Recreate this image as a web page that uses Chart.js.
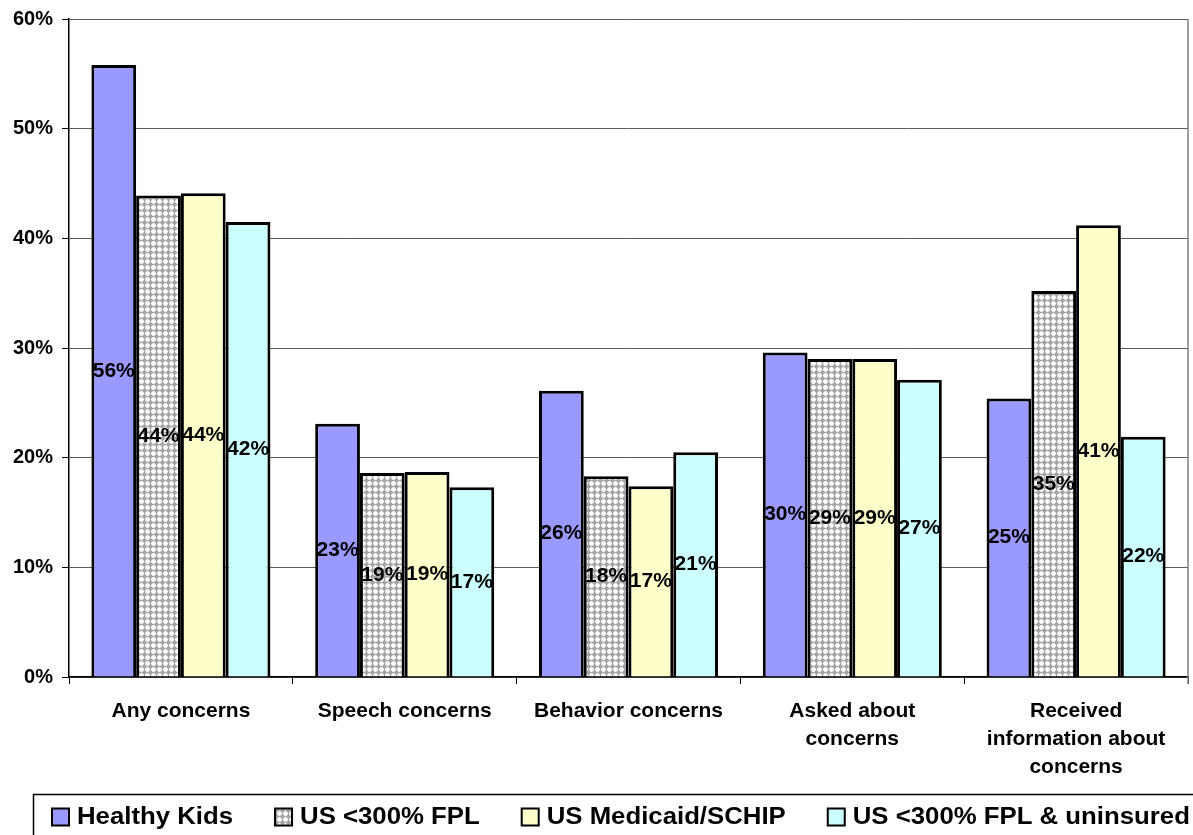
<!DOCTYPE html>
<html>
<head>
<meta charset="utf-8">
<script src="https://cdn.jsdelivr.net/npm/chart.js@4.4.1/dist/chart.umd.min.js"></script>
<style>
  html, body { margin: 0; padding: 0; background: #ffffff; }
  #wrap { width: 1193px; height: 835px; position: relative; }
</style>
</head>
<body>
<div id="wrap"><canvas id="c" width="1193" height="835"></canvas></div>
<script>
// Categories (multi-line labels are arrays)
const categories = [
  'Any concerns',
  'Speech concerns',
  'Behavior concerns',
  ['Asked about', 'concerns'],
  ['Received', 'information about', 'concerns']
];

// Series values (percent)
const healthyKids    = [55.8, 23.1, 26.1, 29.6, 25.4];
const us300FPL       = [43.9, 18.6, 18.3, 29.0, 35.2];
const usMedicaid     = [44.1, 18.7, 17.4, 29.0, 41.2];
const us300Uninsured = [41.5, 17.3, 20.5, 27.1, 21.9];

const seriesNames = ['Healthy Kids', 'US <300% FPL', 'US Medicaid/SCHIP', 'US <300% FPL & uninsured'];

// Y axis tick values
const yTicks = [0, 10, 20, 30, 40, 50, 60];

const FONT = 'Arial, "Liberation Sans", Helvetica, sans-serif';

// Gray crosshatch fill: white plus shapes on a gray lattice
function makeHatch() {
  const p = document.createElement('canvas');
  p.width = 6; p.height = 6;
  const g = p.getContext('2d');
  g.fillStyle = '#a6a6a6';
  g.fillRect(0, 0, 6, 6);
  g.fillStyle = '#d8d8d8';
  [[2,1],[4,1],[1,2],[5,2],[1,4],[5,4],[2,5],[4,5]].forEach(([x, y]) => g.fillRect(x, y, 1, 1));
  g.fillStyle = '#ffffff';
  [[3,1],[2,2],[3,2],[4,2],[1,3],[2,3],[3,3],[4,3],[5,3],[2,4],[3,4],[4,4],[3,5]].forEach(([x, y]) => g.fillRect(x, y, 1, 1));
  return g.createPattern(p, 'repeat');
}

const ctx = document.getElementById('c').getContext('2d');
const hatch = makeHatch();

const fills = ['#9999ff', hatch, '#ffffcc', '#ccffff'];
const seriesData = [healthyKids, us300FPL, usMedicaid, us300Uninsured];

// Value labels centered in each bar
const barLabels = {
  id: 'barLabels',
  afterDatasetsDraw(chart) {
    const c = chart.ctx;
    c.save();
    c.font = 'bold 21px ' + FONT;
    c.fillStyle = '#000';
    c.textAlign = 'center';
    c.textBaseline = 'middle';
    chart.data.datasets.forEach((ds, di) => {
      const meta = chart.getDatasetMeta(di);
      meta.data.forEach((bar, i) => {
        const v = ds.data[i];
        const yMid = (bar.y + bar.base) / 2;
        c.fillText(Math.round(v) + '%', bar.x, yMid);
      });
    });
    c.restore();
  }
};

// Plot frame right edge
const frame = {
  id: 'frame',
  beforeDatasetsDraw(chart) {
    const a = chart.chartArea, c = chart.ctx;
    c.save();
    c.strokeStyle = '#808080';
    c.lineWidth = 1.5;
    c.beginPath();
    c.moveTo(a.right, a.top);
    c.lineTo(a.right, a.bottom + 7);
    c.stroke();
    c.restore();
  }
};

// Boxed legend along the bottom, built from the datasets
const boxedLegend = {
  id: 'boxedLegend',
  afterDraw(chart) {
    const c = chart.ctx;
    const fontPx = 23, stretch = 1.12, sw = 17, gapText = 8, gapItem = 42;
    const cy = 817;
    c.save();
    c.strokeStyle = '#000';
    c.lineWidth = 1.5;
    c.strokeRect(33.5, 794.5, 1200, 60);
    c.font = 'bold ' + fontPx + 'px ' + FONT;
    c.textBaseline = 'middle';
    c.textAlign = 'left';
    let x = 52;
    chart.data.datasets.forEach(ds => {
      c.fillStyle = ds.backgroundColor;
      c.fillRect(x, cy - sw / 2, sw, sw);
      c.lineWidth = 2;
      c.strokeStyle = '#000';
      c.strokeRect(x, cy - sw / 2, sw, sw);
      x += sw + gapText;
      const w = c.measureText(ds.label).width * stretch;
      c.save();
      c.translate(x, cy + 1);
      c.scale(stretch, 1);
      c.fillStyle = '#000';
      c.fillText(ds.label, 0, 0);
      c.restore();
      x += w + gapItem;
    });
    c.restore();
  }
};

new Chart(ctx, {
  type: 'bar',
  data: {
    labels: categories,
    datasets: seriesNames.map((name, i) => ({
      label: name,
      data: seriesData[i],
      backgroundColor: fills[i],
      borderColor: '#000000',
      borderWidth: 3,
      borderSkipped: 'bottom',
      categoryPercentage: 0.8,
      barPercentage: 1.0
    }))
  },
  options: {
    responsive: false,
    animation: false,
    devicePixelRatio: 1,
    layout: { padding: { left: 0, right: 5, top: 3, bottom: 0 } },
    plugins: {
      tooltip: { enabled: false },
      legend: { display: false }
    },
    scales: {
      x: {
        grid: {
          display: true,
          drawOnChartArea: false,
          drawTicks: true,
          tickLength: 7,
          color: '#000',
          offset: true
        },
        border: { display: true, color: '#000', width: 1.5 },
        ticks: {
          color: '#000',
          font: { family: FONT, size: 21, weight: 'bold', lineHeight: 1.33 },
          padding: 13,
          maxRotation: 0,
          autoSkip: false
        },
        afterFit(scale) { scale.height = 158; }
      },
      y: {
        min: 0,
        max: 60,
        afterBuildTicks(scale) { scale.ticks = yTicks.map(v => ({ value: v })); },
        grid: {
          color: '#5a5a5a',
          lineWidth: 1,
          tickLength: 7,
          tickColor: '#000'
        },
        border: { display: true, color: '#000', width: 1.5 },
        ticks: {
          color: '#000',
          font: { family: FONT, size: 20, weight: 'bold', lineHeight: 1.0 },
          padding: 9,
          callback: v => v + '%'
        },
        afterFit(scale) { scale.width = 69; }
      }
    }
  },
  plugins: [barLabels, frame, boxedLegend]
});
</script>
</body>
</html>
